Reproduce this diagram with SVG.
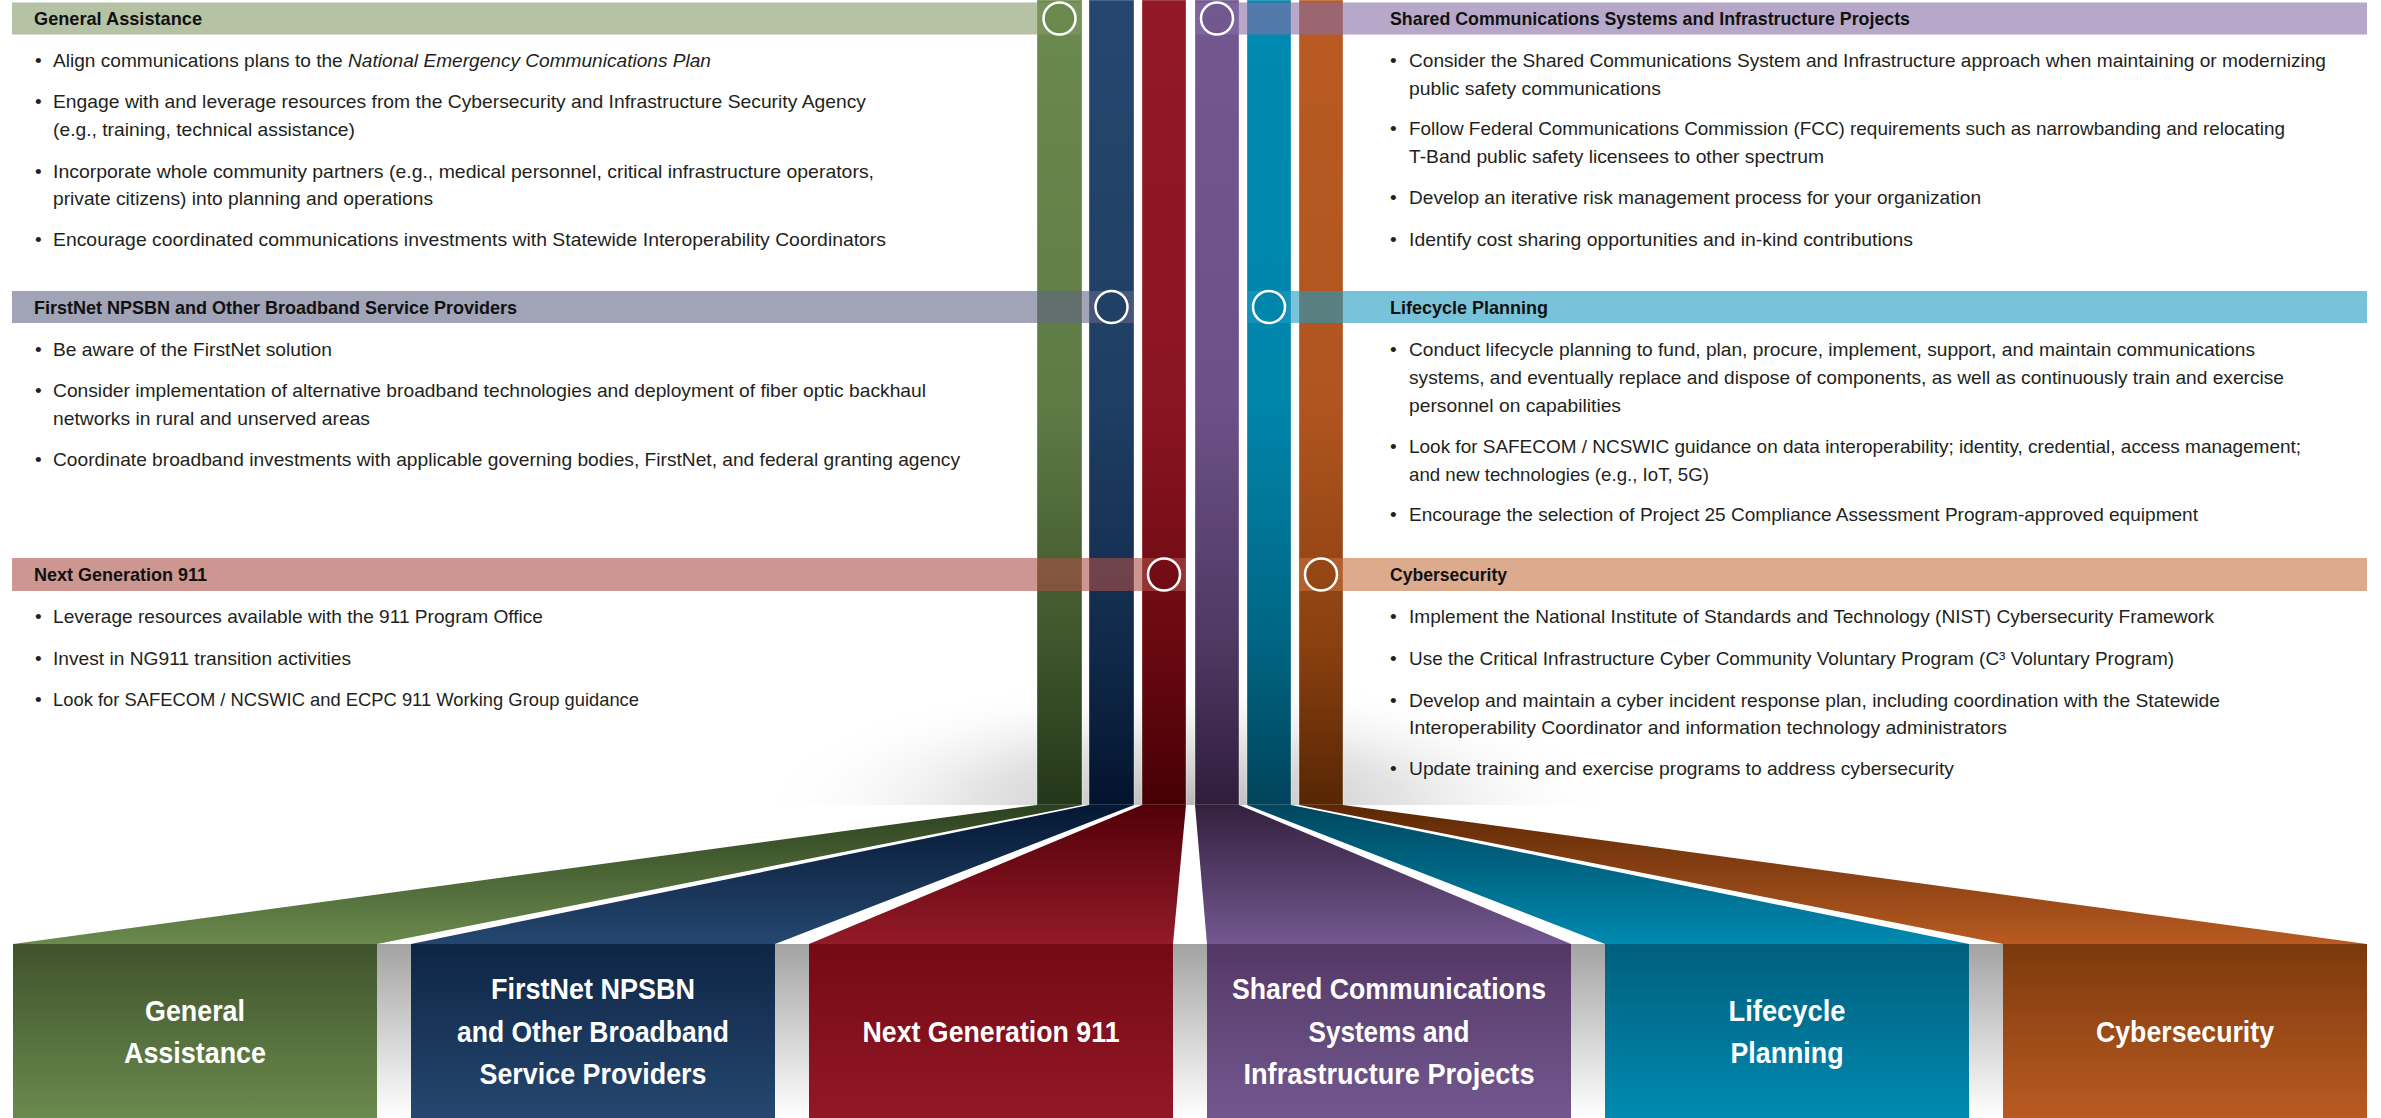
<svg xmlns="http://www.w3.org/2000/svg" width="2381" height="1118" viewBox="0 0 2381 1118">
<defs>
<style>
.h{font-family:"Liberation Sans",Arial,sans-serif;font-weight:bold;font-size:19px;fill:#111}
.t{font-family:"Liberation Sans",Arial,sans-serif;font-size:19px;fill:#231f20}
.b{font-family:"Liberation Sans",Arial,sans-serif;font-weight:bold;font-size:30px;fill:#fff;text-anchor:middle}
.c{stroke:#fff;stroke-width:2.5}
.col{stroke:#fff;stroke-opacity:0.35;stroke-width:1}
</style>
<linearGradient id="cG" gradientUnits="userSpaceOnUse" x1="0" y1="0" x2="0" y2="805"><stop offset="0" stop-color="#6b8a4e"/><stop offset="0.5" stop-color="#5f7b45"/><stop offset="0.8" stop-color="#3f552b"/><stop offset="1" stop-color="#23371a"/></linearGradient>
<linearGradient id="cN" gradientUnits="userSpaceOnUse" x1="0" y1="0" x2="0" y2="805"><stop offset="0" stop-color="#25476f"/><stop offset="0.5" stop-color="#1f3e63"/><stop offset="0.8" stop-color="#112a4a"/><stop offset="1" stop-color="#02142e"/></linearGradient>
<linearGradient id="cR" gradientUnits="userSpaceOnUse" x1="0" y1="0" x2="0" y2="805"><stop offset="0" stop-color="#921827"/><stop offset="0.5" stop-color="#8a1522"/><stop offset="0.8" stop-color="#6a0810"/><stop offset="1" stop-color="#460005"/></linearGradient>
<linearGradient id="cP" gradientUnits="userSpaceOnUse" x1="0" y1="0" x2="0" y2="805"><stop offset="0" stop-color="#735890"/><stop offset="0.5" stop-color="#6c5188"/><stop offset="0.8" stop-color="#4f3862"/><stop offset="1" stop-color="#301d3c"/></linearGradient>
<linearGradient id="cT" gradientUnits="userSpaceOnUse" x1="0" y1="0" x2="0" y2="805"><stop offset="0" stop-color="#008ab1"/><stop offset="0.5" stop-color="#0085ab"/><stop offset="0.8" stop-color="#006583"/><stop offset="1" stop-color="#00435a"/></linearGradient>
<linearGradient id="cO" gradientUnits="userSpaceOnUse" x1="0" y1="0" x2="0" y2="805"><stop offset="0" stop-color="#b95b22"/><stop offset="0.5" stop-color="#b05520"/><stop offset="0.8" stop-color="#8a4010"/><stop offset="1" stop-color="#572604"/></linearGradient>

<linearGradient id="rG" gradientUnits="userSpaceOnUse" x1="0" y1="805" x2="0" y2="944"><stop offset="0" stop-color="#2c411f"/><stop offset="1" stop-color="#6b8a4e"/></linearGradient>
<linearGradient id="rN" gradientUnits="userSpaceOnUse" x1="0" y1="805" x2="0" y2="944"><stop offset="0" stop-color="#051834"/><stop offset="1" stop-color="#25476f"/></linearGradient>
<linearGradient id="rR" gradientUnits="userSpaceOnUse" x1="0" y1="805" x2="0" y2="944"><stop offset="0" stop-color="#520008"/><stop offset="1" stop-color="#931a28"/></linearGradient>
<linearGradient id="rP" gradientUnits="userSpaceOnUse" x1="0" y1="805" x2="0" y2="944"><stop offset="0" stop-color="#34203e"/><stop offset="1" stop-color="#735890"/></linearGradient>
<linearGradient id="rT" gradientUnits="userSpaceOnUse" x1="0" y1="805" x2="0" y2="944"><stop offset="0" stop-color="#00475e"/><stop offset="1" stop-color="#008ab1"/></linearGradient>
<linearGradient id="rO" gradientUnits="userSpaceOnUse" x1="0" y1="805" x2="0" y2="944"><stop offset="0" stop-color="#5b2805"/><stop offset="1" stop-color="#b95b22"/></linearGradient>

<linearGradient id="bG" x1="0" y1="0" x2="0" y2="1"><stop offset="0" stop-color="#40532c"/><stop offset="1" stop-color="#6a8a4e"/></linearGradient>
<linearGradient id="bN" x1="0" y1="0" x2="0" y2="1"><stop offset="0" stop-color="#0e2545"/><stop offset="1" stop-color="#25476f"/></linearGradient>
<linearGradient id="bR" x1="0" y1="0" x2="0" y2="1"><stop offset="0" stop-color="#740a15"/><stop offset="1" stop-color="#931727"/></linearGradient>
<linearGradient id="bP" x1="0" y1="0" x2="0" y2="1"><stop offset="0" stop-color="#533866"/><stop offset="1" stop-color="#735890"/></linearGradient>
<linearGradient id="bT" x1="0" y1="0" x2="0" y2="1"><stop offset="0" stop-color="#005f7d"/><stop offset="1" stop-color="#008ab1"/></linearGradient>
<linearGradient id="bO" x1="0" y1="0" x2="0" y2="1"><stop offset="0" stop-color="#7c390c"/><stop offset="1" stop-color="#b95b22"/></linearGradient>
<linearGradient id="gap" x1="0" y1="0" x2="0" y2="1"><stop offset="0" stop-color="#a3a3a3"/><stop offset="1" stop-color="#ffffff"/></linearGradient>
<radialGradient id="shade"><stop offset="0" stop-color="#b8b8b8"/><stop offset="0.5" stop-color="#d8d8d8" stop-opacity="0.7"/><stop offset="1" stop-color="#ffffff" stop-opacity="0"/></radialGradient>
<clipPath id="above"><rect x="0" y="0" width="2381" height="805"/></clipPath>
</defs>
<rect width="2381" height="1118" fill="#fff"/>

<ellipse cx="1190" cy="805" rx="430" ry="130" fill="url(#shade)" clip-path="url(#above)"/>

<g id="connectors">
  <rect class="col" x="1037" y="0" width="45" height="805" fill="url(#cG)"/>
  <rect class="col" x="1089" y="0" width="45" height="805" fill="url(#cN)"/>
  <rect class="col" x="1142" y="0" width="44" height="805" fill="url(#cR)"/>
  <rect class="col" x="1195" y="0" width="44" height="805" fill="url(#cP)"/>
  <rect class="col" x="1247" y="0" width="44" height="805" fill="url(#cT)"/>
  <rect class="col" x="1299" y="0" width="44" height="805" fill="url(#cO)"/>
  <polygon points="1037,805 1082,805 377,944 13,944" fill="url(#rG)"/>
  <polygon points="1089,805 1134,805 775,944 411,944" fill="url(#rN)"/>
  <polygon points="1142,805 1186,805 1173,944 809,944" fill="url(#rR)"/>
  <polygon points="1195,805 1239,805 1571,944 1207,944" fill="url(#rP)"/>
  <polygon points="1247,805 1291,805 1969,944 1605,944" fill="url(#rT)"/>
  <polygon points="1299,805 1343,805 2367,944 2003,944" fill="url(#rO)"/>
</g>

<g id="gaps">
  <rect x="377" y="944" width="34" height="174" fill="url(#gap)"/>
  <rect x="775" y="944" width="34" height="174" fill="url(#gap)"/>
  <rect x="1173" y="944" width="34" height="174" fill="url(#gap)"/>
  <rect x="1571" y="944" width="34" height="174" fill="url(#gap)"/>
  <rect x="1969" y="944" width="34" height="174" fill="url(#gap)"/>
</g>

<g id="panel-general-assistance">
  <rect x="12" y="2.5" width="1070" height="32" fill="rgb(132,153,103)" fill-opacity="0.6"/>
  <circle class="c" cx="1059.5" cy="18.5" r="16" fill="url(#cG)"/>
  <text class="h" x="34" y="25" textLength="168" lengthAdjust="spacingAndGlyphs">General Assistance</text>
  <text class="t" x="35" y="67">•</text><text class="t" x="53" y="67" textLength="658" lengthAdjust="spacingAndGlyphs">Align communications plans to the <tspan font-style="italic">National Emergency Communications Plan</tspan></text>
  <text class="t" x="35" y="108">•</text><text class="t" x="53" y="108" textLength="813" lengthAdjust="spacingAndGlyphs">Engage with and leverage resources from the Cybersecurity and Infrastructure Security Agency</text>
  <text class="t" x="53" y="136" textLength="302" lengthAdjust="spacingAndGlyphs">(e.g., training, technical assistance)</text>
  <text class="t" x="35" y="178">•</text><text class="t" x="53" y="178" textLength="821" lengthAdjust="spacingAndGlyphs">Incorporate whole community partners (e.g., medical personnel, critical infrastructure operators,</text>
  <text class="t" x="53" y="205" textLength="380" lengthAdjust="spacingAndGlyphs">private citizens) into planning and operations</text>
  <text class="t" x="35" y="246">•</text><text class="t" x="53" y="246" textLength="833" lengthAdjust="spacingAndGlyphs">Encourage coordinated communications investments with Statewide Interoperability Coordinators</text>
</g>

<g id="panel-firstnet">
  <rect x="12" y="291" width="1122" height="32" fill="rgb(98,102,133)" fill-opacity="0.6"/>
  <circle class="c" cx="1111.5" cy="307" r="16" fill="url(#cN)"/>
  <text class="h" x="34" y="314" textLength="483" lengthAdjust="spacingAndGlyphs">FirstNet NPSBN and Other Broadband Service Providers</text>
  <text class="t" x="35" y="356">•</text><text class="t" x="53" y="356" textLength="279" lengthAdjust="spacingAndGlyphs">Be aware of the FirstNet solution</text>
  <text class="t" x="35" y="397">•</text><text class="t" x="53" y="397" textLength="873" lengthAdjust="spacingAndGlyphs">Consider implementation of alternative broadband technologies and deployment of fiber optic backhaul</text>
  <text class="t" x="53" y="425" textLength="317" lengthAdjust="spacingAndGlyphs">networks in rural and unserved areas</text>
  <text class="t" x="35" y="466">•</text><text class="t" x="53" y="466" textLength="907" lengthAdjust="spacingAndGlyphs">Coordinate broadband investments with applicable governing bodies, FirstNet, and federal granting agency</text>
</g>

<g id="panel-ng911">
  <rect x="12" y="558" width="1174" height="33" fill="rgb(172,80,70)" fill-opacity="0.6"/>
  <circle class="c" cx="1164" cy="574.5" r="16" fill="url(#cR)"/>
  <text class="h" x="34" y="581" textLength="173" lengthAdjust="spacingAndGlyphs">Next Generation 911</text>
  <text class="t" x="35" y="623">•</text><text class="t" x="53" y="623" textLength="490" lengthAdjust="spacingAndGlyphs">Leverage resources available with the 911 Program Office</text>
  <text class="t" x="35" y="665">•</text><text class="t" x="53" y="665" textLength="298" lengthAdjust="spacingAndGlyphs">Invest in NG911 transition activities</text>
  <text class="t" x="35" y="706">•</text><text class="t" x="53" y="706" textLength="586" lengthAdjust="spacingAndGlyphs">Look for SAFECOM / NCSWIC and ECPC 911 Working Group guidance</text>
</g>

<g id="panel-shared">
  <rect x="1195" y="2.5" width="1172" height="32" fill="rgb(135,110,165)" fill-opacity="0.6"/>
  <circle class="c" cx="1217" cy="18.5" r="16" fill="url(#cP)"/>
  <text class="h" x="1390" y="25" textLength="520" lengthAdjust="spacingAndGlyphs">Shared Communications Systems and Infrastructure Projects</text>
  <text class="t" x="1390" y="67">•</text><text class="t" x="1409" y="67" textLength="917" lengthAdjust="spacingAndGlyphs">Consider the Shared Communications System and Infrastructure approach when maintaining or modernizing</text>
  <text class="t" x="1409" y="95" textLength="252" lengthAdjust="spacingAndGlyphs">public safety communications</text>
  <text class="t" x="1390" y="135">•</text><text class="t" x="1409" y="135" textLength="876" lengthAdjust="spacingAndGlyphs">Follow Federal Communications Commission (FCC) requirements such as narrowbanding and relocating</text>
  <text class="t" x="1409" y="163" textLength="415" lengthAdjust="spacingAndGlyphs">T-Band public safety licensees to other spectrum</text>
  <text class="t" x="1390" y="204">•</text><text class="t" x="1409" y="204" textLength="572" lengthAdjust="spacingAndGlyphs">Develop an iterative risk management process for your organization</text>
  <text class="t" x="1390" y="246">•</text><text class="t" x="1409" y="246" textLength="504" lengthAdjust="spacingAndGlyphs">Identify cost sharing opportunities and in-kind contributions</text>
</g>

<g id="panel-lifecycle">
  <rect x="1247" y="291" width="1120" height="32" fill="rgb(32,155,193)" fill-opacity="0.6"/>
  <circle class="c" cx="1269" cy="307" r="16" fill="url(#cT)"/>
  <text class="h" x="1390" y="314" textLength="158" lengthAdjust="spacingAndGlyphs">Lifecycle Planning</text>
  <text class="t" x="1390" y="356">•</text><text class="t" x="1409" y="356" textLength="846" lengthAdjust="spacingAndGlyphs">Conduct lifecycle planning to fund, plan, procure, implement, support, and maintain communications</text>
  <text class="t" x="1409" y="384" textLength="875" lengthAdjust="spacingAndGlyphs">systems, and eventually replace and dispose of components, as well as continuously train and exercise</text>
  <text class="t" x="1409" y="412" textLength="212" lengthAdjust="spacingAndGlyphs">personnel on capabilities</text>
  <text class="t" x="1390" y="453">•</text><text class="t" x="1409" y="453" textLength="892" lengthAdjust="spacingAndGlyphs">Look for SAFECOM / NCSWIC guidance on data interoperability; identity, credential, access management;</text>
  <text class="t" x="1409" y="481" textLength="300" lengthAdjust="spacingAndGlyphs">and new technologies (e.g., IoT, 5G)</text>
  <text class="t" x="1390" y="521">•</text><text class="t" x="1409" y="521" textLength="789" lengthAdjust="spacingAndGlyphs">Encourage the selection of Project 25 Compliance Assessment Program-approved equipment</text>
</g>

<g id="panel-cybersecurity">
  <rect x="1299" y="558" width="1068" height="33" fill="rgb(197,113,63)" fill-opacity="0.6"/>
  <circle class="c" cx="1321" cy="574.5" r="16" fill="url(#cO)"/>
  <text class="h" x="1390" y="581" textLength="117" lengthAdjust="spacingAndGlyphs">Cybersecurity</text>
  <text class="t" x="1390" y="623">•</text><text class="t" x="1409" y="623" textLength="805" lengthAdjust="spacingAndGlyphs">Implement the National Institute of Standards and Technology (NIST) Cybersecurity Framework</text>
  <text class="t" x="1390" y="665">•</text><text class="t" x="1409" y="665" textLength="765" lengthAdjust="spacingAndGlyphs">Use the Critical Infrastructure Cyber Community Voluntary Program (C³ Voluntary Program)</text>
  <text class="t" x="1390" y="707">•</text><text class="t" x="1409" y="707" textLength="811" lengthAdjust="spacingAndGlyphs">Develop and maintain a cyber incident response plan, including coordination with the Statewide</text>
  <text class="t" x="1409" y="734" textLength="598" lengthAdjust="spacingAndGlyphs">Interoperability Coordinator and information technology administrators</text>
  <text class="t" x="1390" y="775">•</text><text class="t" x="1409" y="775" textLength="545" lengthAdjust="spacingAndGlyphs">Update training and exercise programs to address cybersecurity</text>
</g>

<g id="box-general-assistance">
  <rect x="13" y="944" width="364" height="174" fill="url(#bG)"/>
  <text class="b" x="195" y="1021" textLength="100" lengthAdjust="spacingAndGlyphs">General</text>
  <text class="b" x="195" y="1063" textLength="142" lengthAdjust="spacingAndGlyphs">Assistance</text>
</g>
<g id="box-firstnet">
  <rect x="411" y="944" width="364" height="174" fill="url(#bN)"/>
  <text class="b" x="593" y="999" textLength="204" lengthAdjust="spacingAndGlyphs">FirstNet NPSBN</text>
  <text class="b" x="593" y="1042" textLength="272" lengthAdjust="spacingAndGlyphs">and Other Broadband</text>
  <text class="b" x="593" y="1084" textLength="227" lengthAdjust="spacingAndGlyphs">Service Providers</text>
</g>
<g id="box-ng911">
  <rect x="809" y="944" width="364" height="174" fill="url(#bR)"/>
  <text class="b" x="991" y="1042" textLength="257" lengthAdjust="spacingAndGlyphs">Next Generation 911</text>
</g>
<g id="box-shared">
  <rect x="1207" y="944" width="364" height="174" fill="url(#bP)"/>
  <text class="b" x="1389" y="999" textLength="314" lengthAdjust="spacingAndGlyphs">Shared Communications</text>
  <text class="b" x="1389" y="1042" textLength="161" lengthAdjust="spacingAndGlyphs">Systems and</text>
  <text class="b" x="1389" y="1084" textLength="291" lengthAdjust="spacingAndGlyphs">Infrastructure Projects</text>
</g>
<g id="box-lifecycle">
  <rect x="1605" y="944" width="364" height="174" fill="url(#bT)"/>
  <text class="b" x="1787" y="1021" textLength="117" lengthAdjust="spacingAndGlyphs">Lifecycle</text>
  <text class="b" x="1787" y="1063" textLength="113" lengthAdjust="spacingAndGlyphs">Planning</text>
</g>
<g id="box-cybersecurity">
  <rect x="2003" y="944" width="364" height="174" fill="url(#bO)"/>
  <text class="b" x="2185" y="1042" textLength="178" lengthAdjust="spacingAndGlyphs">Cybersecurity</text>
</g>
</svg>
